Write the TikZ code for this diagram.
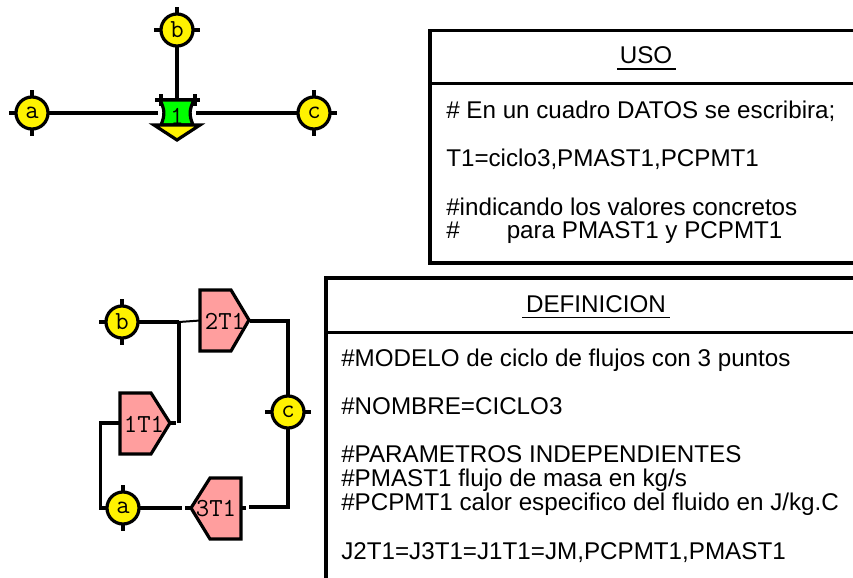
\documentclass[tikz,border=0pt]{standalone}
\usepackage{fontspec}
\setmainfont{Liberation Sans}
\tikzset{x=0.75pt,y=-0.75pt,
 wire/.style={line width=2.4pt,black},
 tick/.style={line width=2.3pt,black},
 pt/.style={circle,draw=black,fill=yellow,line width=2.4pt,minimum size=24pt,inner sep=0pt,font=\ttfamily\fontsize{19.5}{19.5}\selectfont},
 blockshape/.style={draw=black,fill=red!38!white,line width=2.4pt,line join=miter},
 blocklabel/.style={font=\ttfamily\fontsize{19.5}{19.5}\selectfont,inner sep=0pt},
 panel/.style={draw=black,line width=2.3pt},
 rulethin/.style={draw=black,line width=0.8pt},
 txt/.style={anchor=base west,inner sep=0pt,font=\fontsize{18.15}{18.15}\selectfont},
 title/.style={anchor=base,inner sep=0pt,font=\fontsize{18.15}{18.15}\selectfont}}
\newcommand{\ptnode}[4]{\node[pt] (#1) at (#2,#3) {#4};
 \draw[tick] (#2-23,#3)--(#2-16,#3) (#2+16,#3)--(#2+23,#3) (#2,#3-23)--(#2,#3-16) (#2,#3+16)--(#2,#3+23);}
\begin{document}
\begin{tikzpicture}
\useasboundingbox (0,0) rectangle (853,578);
% top model
\ptnode{ta}{32}{113}{a}
\ptnode{tb}{177}{30}{b}
\ptnode{tc}{314}{113}{c}
\draw[tick] (161,94)--(161,106) (195,94)--(195,106) (155,100)--(200,100);
\draw[black,fill=green,line width=2.4pt] (160,100)..controls (165,110) and (165,115)..(161,125)--(193,125)..controls (189,115) and (189,110)..(194,100)--cycle;
\node[blocklabel] (tone) at (177,116) {1};
\draw[black,fill=yellow,line width=2.4pt,line join=miter] (154,125)--(200,125)--(177,140)--cycle;
\draw[wire] (tb)--(177,99);
\draw[wire] (ta)--(158,113);
\draw[wire] (196,113)--(tc);
% lower model
\ptnode{lb}{122}{322}{b}
\ptnode{lc}{288}{412}{c}
\ptnode{la}{123}{508}{a}
\draw[blockshape] (200,290)--(231,290)--(249,320)--(231,351)--(200,351)--cycle;
\node[blocklabel] (b2) at (225,321) {2T1};
\draw[blockshape] (120,393)--(151,393)--(170,423)--(151,454)--(120,454)--cycle;
\node[blocklabel] (b1) at (144,424) {1T1};
\draw[blockshape] (241,478)--(210,478)--(191,508)--(210,539)--(241,539)--cycle;
\node[blocklabel] (b3) at (216,509) {3T1};
\coordinate (j1) at (179,322);
\draw[wire] (lb)--(j1);
\draw[wire,line width=1.5pt] (j1)--(200,320.5);
\draw[wire] (j1)--(179,423);
\draw[wire] (170,423)--(176,423);
\draw[wire] (250,321)--(288,321)--(lc);
\draw[wire] (lc)--(288,507)--(249,507);
\draw[wire] (246,508)--(241,508);
\draw[wire] (120,423)--(100.5,423)--(100.5,508)--(la);
\draw[wire] (la)--(182,508);
\draw[wire] (185,508)--(191,508);
% USO panel
\draw[panel] (853,30.5)--(430,30.5)--(430,263)--(853,263);
\draw[panel] (430,83.5)--(853,83.5);
\node[title] (usot) at (646,63) {USO};
\draw[rulethin] (617,69)--(676,69);
\node[txt] (u1) at (446,118) {\# En un cuadro DATOS se escribira;};
\node[txt] (u2) at (446,166) {T1=ciclo3,PMAST1,PCPMT1};
\node[txt] (u3) at (446,215) {\#indicando los valores concretos};
\node[txt] (u4) at (446,238) {\#};
\node[txt] (u5) at (506.5,238) {para PMAST1 y PCPMT1};
% DEFINICION panel
\draw[panel] (853,278)--(326,278)--(326,578);
\draw[panel] (326,332.5)--(853,332.5);
\node[title] (deft) at (596,312) {DEFINICION};
\draw[rulethin] (522,317.5)--(670,317.5);
\node[txt] (d1) at (341,366) {\#MODELO de ciclo de flujos con 3 puntos};
\node[txt] (d2) at (341,414) {\#NOMBRE=CICLO3};
\node[txt] (d3) at (341,462) {\#PARAMETROS INDEPENDIENTES};
\node[txt] (d4) at (341,486) {\#PMAST1 flujo de masa en kg/s};
\node[txt] (d5) at (341,510) {\#PCPMT1 calor especifico del fluido en J/kg.C};
\node[txt] (d6) at (341,559) {J2T1=J3T1=J1T1=JM,PCPMT1,PMAST1};
\end{tikzpicture}
\end{document}
